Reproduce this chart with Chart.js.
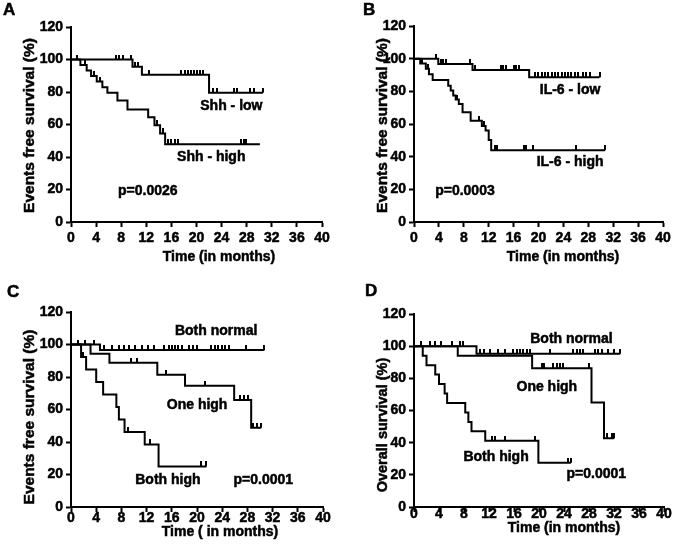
<!DOCTYPE html>
<html>
<head>
<meta charset="utf-8">
<script src="https://cdn.jsdelivr.net/npm/chart.js@4/dist/chart.umd.min.js"></script>
<style>
  body { margin: 0; background: #fff; width: 675px; height: 549px; position: relative; overflow: hidden; }
  canvas { position: absolute; }
</style>
</head>
<body>
<canvas id="chartA" width="337" height="272" style="left:0;top:0"></canvas>
<canvas id="chartB" width="338" height="272" style="left:337px;top:0"></canvas>
<canvas id="chartC" width="337" height="277" style="left:0;top:272px"></canvas>
<canvas id="chartD" width="338" height="277" style="left:337px;top:272px"></canvas>
<script>
// ---- A: Shh ----
const shhLowT = [0, 9.8, 11.3, 22.0, 30.6];
const shhLowS = [100, 95.6, 90.6, 79.6, 79.6];
const shhLowCens = [0.9, 7.1, 7.6, 8.3, 9.5, 10.2, 10.6, 12.5, 17.6, 18.1, 18.6, 19.1, 19.6, 20.1, 20.6, 21.1, 22.7, 23.2, 26.0, 26.5, 28.6, 29.2, 30.6];
const shhHighT = [0, 1.5, 2.5, 3.2, 4.1, 5.0, 5.8, 7.4, 9.0, 12.3, 13.3, 14.2, 15.0, 30.1];
const shhHighS = [100, 96.6, 93.2, 89.8, 86.4, 83.0, 79.6, 74.7, 69.3, 64.5, 59.5, 54.5, 47.8, 47.8];
const shhHighCens = [2.2, 3.6, 4.6, 13.7, 14.7, 15.5, 16.0, 16.5, 17.0, 27.1, 27.5, 27.9];

// ---- B: IL-6 ----
const il6LowT = [0, 3.9, 9.4, 18.5, 29.8];
const il6LowS = [100, 96.7, 93.1, 88.6, 88.6];
const il6LowCens = [3.5, 4.3, 4.7, 5.1, 9.0, 9.8, 13.9, 14.3, 14.8, 16.0, 16.4, 16.9, 19.4, 19.9, 20.5, 21.0, 21.5, 22.1, 22.6, 23.1, 23.7, 24.2, 24.7, 25.3, 25.8, 26.3, 27.2, 27.7, 28.2, 29.8];
const il6HighT = [0, 1.0, 1.9, 2.4, 3.0, 5.5, 5.9, 6.3, 6.7, 7.2, 7.8, 9.1, 10.9, 11.5, 12.0, 12.4, 30.7];
const il6HighS = [100, 97.1, 93.8, 90.4, 86.9, 83.4, 80.5, 77.5, 75.0, 72.3, 67.2, 62.0, 58.8, 56.0, 50.2, 44.0, 44.0];
const il6HighCens = [1.3, 2.2, 6.9, 10.4, 11.3, 13.0, 13.4, 17.6, 18.0, 19.1, 26.0, 30.7];

// ---- C: events free survival, combined ----
const bnCT = [0, 4.6, 30.7];
const bnCS = [100, 96.6, 96.6];
const bnCCens = [1.1, 2.2, 3.7, 5.3, 6.5, 7.6, 8.4, 9.2, 10.2, 11.2, 12.2, 13.2, 14.7, 15.5, 16.0, 16.5, 17.0, 17.6, 18.7, 19.3, 20.0, 22.3, 22.9, 23.4, 23.9, 24.4, 25.1, 27.7, 30.7];
const ohCT = [0, 3.1, 6.1, 13.7, 18.1, 25.9, 28.6, 30.2];
const ohCS = [100, 94.3, 88.8, 81.4, 74.6, 65.8, 48.8, 48.8];
const ohCCens = [9.6, 10.4, 15.1, 21.2, 26.8, 27.5, 28.1, 28.9, 29.5, 30.1];
const bhCT = [0, 1.6, 2.4, 4.0, 5.1, 7.2, 7.6, 8.5, 11.7, 13.9, 21.5];
const bhCS = [100, 92.3, 84.6, 76.9, 69.2, 61.5, 53.8, 46.2, 38.5, 25.0, 25.0];
const bhCCens = [1.9, 9.0, 12.5, 20.7, 21.5];

// ---- D: overall survival, combined ----
const bnDT = [0, 10.0, 33.0];
const bnDS = [100, 95.3, 95.3];
const bnDCens = [1.1, 2.6, 3.3, 4.3, 6.0, 7.4, 7.9, 10.6, 11.2, 12.1, 13.5, 14.6, 15.9, 16.4, 16.9, 17.5, 18.0, 18.6, 21.8, 25.5, 26.0, 26.6, 27.1, 29.0, 29.5, 30.0, 31.1, 32.0, 33.0];
const ohDT = [0, 7.0, 18.9, 28.4, 30.4, 32.0];
const ohDS = [100, 94.1, 86.2, 64.9, 42.7, 42.7];
const ohDCens = [20.4, 20.8, 22.3, 22.8, 23.4, 23.9, 28.0, 30.8, 31.6, 32.0];
const bhDT = [0, 1.4, 2.0, 3.4, 4.0, 4.9, 5.3, 8.2, 8.7, 9.2, 11.4, 19.9, 25.1];
const bhDS = [100, 94.1, 88.2, 82.4, 76.5, 70.6, 64.7, 58.8, 52.9, 47.1, 41.2, 27.5, 27.5];
const bhDCens = [12.4, 13.0, 14.6, 19.4, 24.7, 25.1];

const FONT = '"Liberation Sans", Arial, sans-serif';

// censor mark: short vertical tick sitting on top of the curve
const tick = document.createElement('canvas');
tick.width = 2; tick.height = 10;
const tc = tick.getContext('2d');
tc.fillStyle = '#000';
tc.fillRect(0, 0, 2, 5);

function curve(times, surv) {
  return times.map((t, i) => ({ x: t, y: surv[i] }));
}
function censored(times, surv, cens) {
  return cens.map(c => {
    let k = 0;
    for (let i = 0; i < times.length; i++) if (times[i] <= c) k = i;
    return { x: c, y: surv[k] };
  });
}

function boldText(ctx, s, x, y) {
  ctx.strokeText(s, x, y);
  ctx.fillText(s, x, y);
}

const textPlugin = {
  id: 'panelText',
  afterDraw(chart, args, o) {
    const { ctx } = chart;
    const { x, y } = chart.scales;
    ctx.save();
    ctx.fillStyle = '#000';
    ctx.strokeStyle = '#000';
    ctx.lineWidth = 0.5;
    ctx.textBaseline = 'middle';
    ctx.textAlign = 'left';
    ctx.font = 'bold 14px ' + FONT;
    o.notes.forEach(n => boldText(ctx, n[0], x.getPixelForValue(n[1]), y.getPixelForValue(n[2])));
    ctx.font = 'bold 17px ' + FONT;
    boldText(ctx, o.letter[0], o.letter[1], o.letter[2]);
    ctx.textAlign = 'center';
    ctx.font = 'bold 14px ' + FONT;
    boldText(ctx, o.xTitle[0], o.xTitle[1], o.xTitle[2]);
    ctx.translate(o.yTitle[1], o.yTitle[2]);
    ctx.rotate(-Math.PI / 2);
    ctx.font = 'bold ' + o.yTitle[3] + 'px ' + FONT;
    boldText(ctx, o.yTitle[0], 0, 0);
    ctx.restore();
  }
};

function axis(min, max, step, pad, fit) {
  return {
    type: 'linear', min, max,
    ticks: { stepSize: step, autoSkip: false, maxRotation: 0, color: '#000', padding: pad,
             textStrokeColor: '#000', textStrokeWidth: 0.5,
             font: { family: FONT, size: 14, weight: 'bold' } },
    grid: { drawOnChartArea: false, drawTicks: true, tickLength: 5, tickColor: '#000', tickWidth: 2 },
    border: { display: true, color: '#000', width: 2 },
    afterFit: fit
  };
}

function panel(id, box, groups, text) {
  const datasets = [];
  groups.forEach(g => datasets.push({
    data: curve(g[0], g[1]), showLine: true, stepped: 'before',
    borderColor: '#000', borderWidth: 2, pointRadius: 0, fill: false
  }));
  groups.forEach(g => datasets.push({
    data: censored(g[0], g[1], g[2]), showLine: false,
    pointStyle: tick, pointRadius: 3, borderWidth: 0
  }));
  new Chart(document.getElementById(id), {
    type: 'line',
    data: { datasets },
    options: {
      responsive: false, animation: false, events: [],
      layout: { padding: { left: 0, top: box.top, right: box.right, bottom: 0 } },
      plugins: { legend: { display: false }, tooltip: { enabled: false }, panelText: text },
      scales: {
        x: axis(0, 40, 4, box.xPad, s => { s.height = box.xH; }),
        y: axis(0, 120, 20, 3, s => { s.width = box.yW; })
      }
    },
    plugins: [textPlugin]
  });
}

panel('chartA', { top: 27, right: 15, xH: 50, yW: 71, xPad: 3 },
  [[shhLowT, shhLowS, shhLowCens], [shhHighT, shhHighS, shhHighCens]],
  { notes: [['Shh - low', 20.6, 71.4], ['Shh - high', 16.9, 40], ['p=0.0026', 7.5, 19]],
    letter: ['A', 3, 10], xTitle: ['Time (in months)', 219, 257],
    yTitle: ['Events free survival (%)', 30, 125.5, 15.5] });

panel('chartB', { top: 26, right: 12, xH: 50, yW: 77, xPad: 3 },
  [[il6LowT, il6LowS, il6LowCens], [il6HighT, il6HighS, il6HighCens]],
  { notes: [['IL-6 - low', 20.2, 80.8], ['IL-6 - high', 19.7, 36.4], ['p=0.0003', 3.4, 19]],
    letter: ['B', 26, 10], xTitle: ['Time (in months)', 226, 257],
    yTitle: ['Events free survival (%)', 46, 125.5, 15.5] });

panel('chartC', { top: 40, right: 14, xH: 42, yW: 71, xPad: -2 },
  [[bnCT, bnCS, bnCCens], [ohCT, ohCS, ohCCens], [bhCT, bhCS, bhCCens]],
  { notes: [['Both normal', 16.5, 108.4], ['One high', 15.2, 62.8], ['Both high', 10.2, 16.6], ['p=0.0001', 25.8, 16.6]],
    letter: ['C', 7, 20.5], xTitle: ['Time ( in months)', 220, 260.5],
    yTitle: ['Events free survival (%)', 30, 145, 15.5] });

panel('chartD', { top: 42, right: 11, xH: 42, yW: 77, xPad: -6 },
  [[bnDT, bnDS, bnDCens], [ohDT, ohDS, ohDCens], [bhDT, bhDS, bhDCens]],
  { notes: [['Both normal', 18.6, 104.5], ['One high', 16.4, 74.3], ['Both high', 7.9, 30.8], ['p=0.0001', 24.4, 20.5]],
    letter: ['D', 28, 19], xTitle: ['Time (in months)', 227, 256.5],
    yTitle: ['Overall survival (%)', 46, 153, 14.5] });
</script>
</body>
</html>
